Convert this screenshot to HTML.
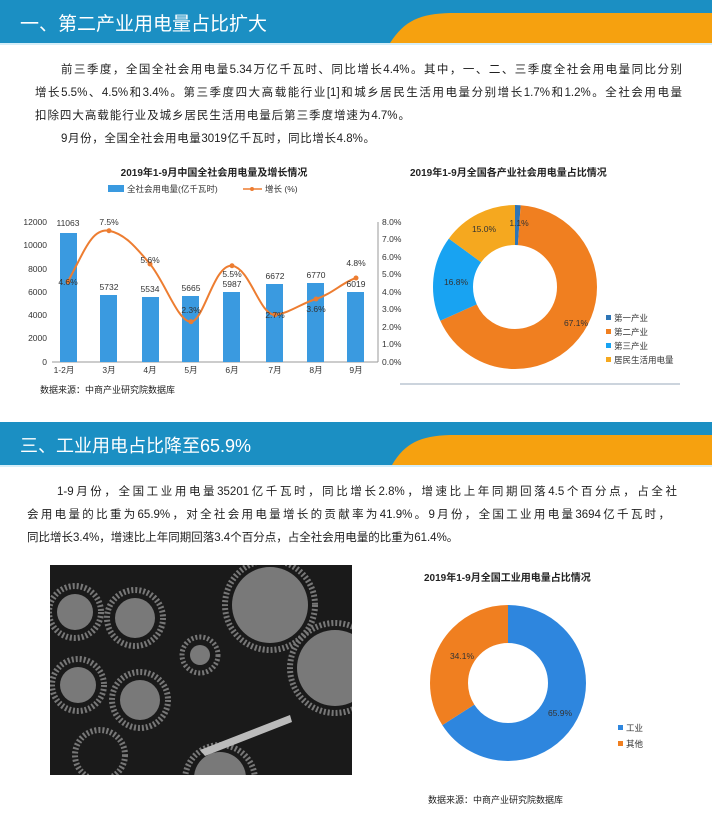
<!DOCTYPE html>
<html><head><meta charset="utf-8"><style>
body{margin:0;width:712px;height:824px;background:#fff;font-family:"Liberation Sans","Noto Sans CJK SC",sans-serif;position:relative;overflow:hidden}
.l{position:absolute;font-size:11.5px;color:#222;height:23px;line-height:23px;white-space:nowrap}
.j{text-align:justify;text-align-last:justify}
</style></head><body>
<svg width="712" height="824" style="position:absolute;left:0;top:0" font-family="Liberation Sans,Noto Sans CJK SC,sans-serif">
<defs><clipPath id="cp"><rect x="50" y="565" width="302" height="210"/></clipPath></defs>
<rect x="0" y="0" width="712" height="43" fill="#1b8fc3"/>
<path d="M390 43 C405 20 420 14 450 13 L712 13 L712 43 Z" fill="#f6a10f"/>
<rect x="0" y="43" width="712" height="2" fill="#d6eef8"/>
<text x="20" y="30" font-size="19" fill="#fff">一、第二产业用电量占比扩大</text>
<rect x="0" y="422" width="712" height="43" fill="#1b8fc3"/>
<path d="M392 465 C405 443 420 436 450 435 L712 435 L712 465 Z" fill="#f6a10f"/>
<rect x="0" y="465" width="712" height="2" fill="#d6eef8"/>
<text x="20" y="452" font-size="18" fill="#fff">三、工业用电占比降至65.9%</text>

<text x="214" y="176" font-size="10" font-weight="bold" text-anchor="middle" fill="#222">2019年1-9月中国全社会用电量及增长情况</text>
<rect x="108" y="185" width="16" height="7" fill="#3a9ae0"/>
<text x="127" y="192" font-size="8.5" fill="#333">全社会用电量(亿千瓦时)</text>
<line x1="243" y1="189" x2="262" y2="189" stroke="#ed7d31" stroke-width="1.5"/><circle cx="252" cy="189" r="2" fill="#ed7d31"/>
<text x="265" y="192" font-size="8.5" fill="#333">增长 (%)</text>
<g font-size="8.5" fill="#333" text-anchor="end">
<text x="47" y="225">12000</text><text x="47" y="248">10000</text><text x="47" y="272">8000</text><text x="47" y="295">6000</text><text x="47" y="318">4000</text><text x="47" y="341">2000</text><text x="47" y="365">0</text>
</g>
<g font-size="8.5" fill="#333">
<text x="382" y="225">8.0%</text><text x="382" y="242">7.0%</text><text x="382" y="260">6.0%</text><text x="382" y="277">5.0%</text><text x="382" y="295">4.0%</text><text x="382" y="312">3.0%</text><text x="382" y="330">2.0%</text><text x="382" y="347">1.0%</text><text x="382" y="365">0.0%</text>
</g>
<line x1="52" y1="362" x2="378" y2="362" stroke="#999"/>
<line x1="378" y1="222" x2="378" y2="362" stroke="#999"/>
<g fill="#3a9ae0">
<rect x="60" y="233" width="17" height="129"/><rect x="100" y="295" width="17" height="67"/><rect x="142" y="297" width="17" height="65"/><rect x="182" y="296" width="17" height="66"/><rect x="223" y="292" width="17" height="70"/><rect x="266" y="284" width="17" height="78"/><rect x="307" y="283" width="17" height="79"/><rect x="347" y="292" width="17" height="70"/>
</g>
<path d="M68 281.5 C85 250 92 228 109 230.75 C126 234 138 250 150 264 C165 282 178 322 191 321.75 C204 321 214 264 232 265.75 C250 268 260 316 275 314.75 C290 313 300 304 316 299 C332 294 343 282 356 278" fill="none" stroke="#ed7d31" stroke-width="2"/>
<g fill="#ed7d31"><circle cx="68" cy="281.5" r="2.5"/><circle cx="109" cy="230.75" r="2.5"/><circle cx="150" cy="264" r="2.5"/><circle cx="191" cy="321.75" r="2.5"/><circle cx="232" cy="265.75" r="2.5"/><circle cx="275" cy="314.75" r="2.5"/><circle cx="316" cy="299" r="2.5"/><circle cx="356" cy="278" r="2.5"/></g>
<g font-size="8.5" fill="#333" text-anchor="middle">
<text x="68" y="226">11063</text><text x="109" y="290">5732</text><text x="150" y="292">5534</text><text x="191" y="291">5665</text><text x="232" y="287">5987</text><text x="275" y="279">6672</text><text x="316" y="278">6770</text><text x="356" y="287">6019</text>
<text x="68" y="285">4.6%</text><text x="109" y="225">7.5%</text><text x="150" y="263">5.6%</text><text x="191" y="313">2.3%</text><text x="232" y="277">5.5%</text><text x="275" y="318">2.7%</text><text x="316" y="312">3.6%</text><text x="356" y="266">4.8%</text>
<text x="64" y="373">1-2月</text><text x="109" y="373">3月</text><text x="150" y="373">4月</text><text x="191" y="373">5月</text><text x="232" y="373">6月</text><text x="275" y="373">7月</text><text x="316" y="373">8月</text><text x="356" y="373">9月</text>
</g>
<text x="40" y="393" font-size="9" fill="#222">数据来源：中商产业研究院数据库</text>

<text x="410" y="176" font-size="10" font-weight="bold" fill="#222">2019年1-9月全国各产业社会用电量占比情况</text>
<g transform="translate(515,287) rotate(-90)" fill="none" stroke-width="40">
<circle r="62" stroke="#2e75b6" stroke-dasharray="4.3 385.3"/>
<circle r="62" stroke="#f07f20" stroke-dasharray="0 4.3 261.4 200"/>
<circle r="62" stroke="#18a3f2" stroke-dasharray="0 265.7 65.5 200"/>
<circle r="62" stroke="#f5a81f" stroke-dasharray="0 331.2 58.4 100"/>
</g>
<g font-size="8.5" fill="#333" text-anchor="middle">
<text x="519" y="226">1.1%</text><text x="484" y="232">15.0%</text><text x="456" y="285">16.8%</text><text x="576" y="326">67.1%</text>
</g>
<g font-size="8.5" fill="#333">
<rect x="606" y="315" width="5" height="5" fill="#2e75b6"/><text x="614" y="321">第一产业</text>
<rect x="606" y="329" width="5" height="5" fill="#f07f20"/><text x="614" y="335">第二产业</text>
<rect x="606" y="343" width="5" height="5" fill="#18a3f2"/><text x="614" y="349">第三产业</text>
<rect x="606" y="357" width="5" height="5" fill="#f5a81f"/><text x="614" y="363">居民生活用电量</text>
</g>
<line x1="400" y1="384" x2="680" y2="384" stroke="#9ab" stroke-width="1"/>

<g clip-path="url(#cp)">
<rect x="50" y="565" width="302" height="210" fill="#1a1a1a"/>
<g fill="none" stroke="#777" stroke-dasharray="2 2">
<circle cx="75" cy="612" r="26" stroke-width="6"/><circle cx="135" cy="618" r="28" stroke-width="6"/><circle cx="270" cy="605" r="45" stroke-width="6"/><circle cx="335" cy="668" r="45" stroke-width="6"/><circle cx="78" cy="685" r="26" stroke-width="6"/><circle cx="140" cy="700" r="28" stroke-width="6"/><circle cx="200" cy="655" r="18" stroke-width="5"/><circle cx="220" cy="780" r="35" stroke-width="6"/><circle cx="100" cy="755" r="25" stroke-width="6"/>
</g>
<g fill="#999" opacity="0.75">
<circle cx="75" cy="612" r="18"/><circle cx="135" cy="618" r="20"/><circle cx="270" cy="605" r="38"/><circle cx="335" cy="668" r="38"/><circle cx="78" cy="685" r="18"/><circle cx="140" cy="700" r="20"/><circle cx="200" cy="655" r="10"/><circle cx="220" cy="778" r="26"/>
</g>
<path d="M200 750 L290 715 L292 722 L205 756 Z" fill="#bbb"/>
</g>

<text x="424" y="581" font-size="10" font-weight="bold" fill="#222">2019年1-9月全国工业用电量占比情况</text>
<g transform="translate(508,683) rotate(-90)" fill="none" stroke-width="38">
<circle r="59" stroke="#2e86de" stroke-dasharray="244.3 126.4"/>
<circle r="59" stroke="#f07f20" stroke-dasharray="0 244.3 126.4 0"/>
</g>
<g font-size="8.5" fill="#333" text-anchor="middle"><text x="462" y="659">34.1%</text><text x="560" y="716">65.9%</text></g>
<g font-size="8.5" fill="#333">
<rect x="618" y="725" width="5" height="5" fill="#2e86de"/><text x="626" y="731">工业</text>
<rect x="618" y="741" width="5" height="5" fill="#f07f20"/><text x="626" y="747">其他</text>
</g>
<text x="428" y="803" font-size="9" fill="#222">数据来源：中商产业研究院数据库</text>
</svg>
<div class="l j" style="left:61px;top:59px;width:621px">前三季度，全国全社会用电量5.34万亿千瓦时、同比增长4.4%。其中，一、二、三季度全社会用电量同比分别</div>
<div class="l j" style="left:35px;top:82px;width:647px">增长5.5%、4.5%和3.4%。第三季度四大高载能行业[1]和城乡居民生活用电量分别增长1.7%和1.2%。全社会用电量</div>
<div class="l j" style="left:35px;top:105px;width:375px">扣除四大高载能行业及城乡居民生活用电量后第三季度增速为4.7%。</div>
<div class="l j" style="left:61px;top:128px;width:314px">9月份，全国全社会用电量3019亿千瓦时，同比增长4.8%。</div>
<div class="l j" style="left:57px;top:481px;width:620px">1-9月份，全国工业用电量35201亿千瓦时，同比增长2.8%，增速比上年同期回落4.5个百分点，占全社</div>
<div class="l j" style="left:27px;top:504px;width:643px">会用电量的比重为65.9%，对全社会用电量增长的贡献率为41.9%。9月份，全国工业用电量3694亿千瓦时，</div>
<div class="l j" style="left:27px;top:527px;width:341px">同比增长3.4%，增速比上年同期回落3.4个百分点，占全社会用电量的比重为61.4%。</div>
</body></html>
